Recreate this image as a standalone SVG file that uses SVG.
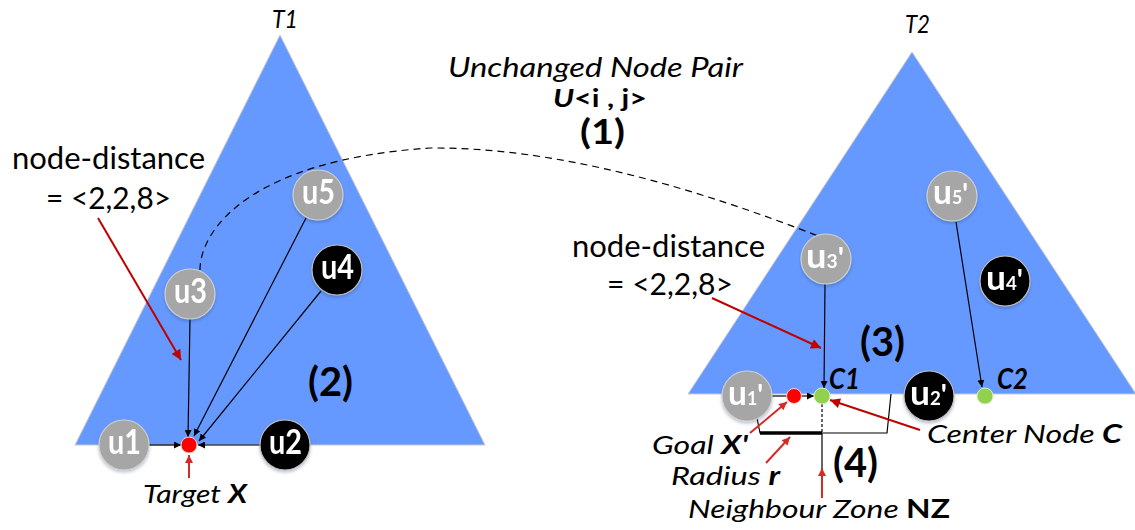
<svg xmlns="http://www.w3.org/2000/svg" width="1135" height="530" viewBox="0 0 1135 530">
<style>
.tri{fill:#6699ff;stroke:#c9c9c9;stroke-width:1}
.gn{fill:#a6a6a6;stroke:#d0d0d0;stroke-width:1.2}
.bn{fill:#000;stroke:#bfbfbf;stroke-width:1.2}
.nl{font-family:Lato,"Open Sans","Liberation Sans",sans-serif;font-weight:bold;fill:#fff}
.t{font-family:Lato,"Open Sans","Liberation Sans",sans-serif;fill:#000}
.it{font-style:italic}
.b{font-weight:bold}
.conn{stroke:#000;stroke-width:1.2;fill:none}
.red{stroke:#c00000;stroke-width:2;fill:none}
.red2{stroke:#d42a2a;stroke-width:2;fill:none}
</style>
<defs>
<marker id="ab" viewBox="0 0 10 10" refX="10" refY="5" markerWidth="7" markerHeight="7" markerUnits="userSpaceOnUse" orient="auto"><path d="M0,0 L10,5 L0,10 z" fill="#000"/></marker>
<marker id="ar" viewBox="0 0 10 10" refX="10" refY="5" markerWidth="12" markerHeight="10" markerUnits="userSpaceOnUse" orient="auto"><path d="M0,0 L10,5 L0,10 z" fill="#c00000"/></marker>
<marker id="ar2" viewBox="0 0 10 10" refX="10" refY="5" markerWidth="10" markerHeight="8" markerUnits="userSpaceOnUse" orient="auto"><path d="M0,0 L10,5 L0,10 z" fill="#d42a2a"/></marker>
<filter id="sh" x="-30%" y="-30%" width="160%" height="170%"><feDropShadow dx="0" dy="2" stdDeviation="1.5" flood-color="#1f3864" flood-opacity="0.3"/></filter>
</defs>

<g id="tree-T1">
<polygon class="tri" points="280,35 75,445 485,445"/>
<text class="t it" x="272" y="28" font-size="26" textLength="26" lengthAdjust="spacingAndGlyphs">T1</text>
</g>
<g id="tree-T2">
<polygon class="tri" points="912,52 688,394 1136,394"/>
<text class="t it" x="905" y="33" font-size="26" textLength="25" lengthAdjust="spacingAndGlyphs">T2</text>
</g>

<g id="connectors">
<path class="conn" stroke-dasharray="7,5" d="M200,270 C200,230 250,160 430,148 C560,147 700,190 818,236"/>
<line class="conn" x1="149" y1="445" x2="181" y2="445" marker-end="url(#ab)"/>
<line class="conn" x1="260" y1="445" x2="198" y2="445" marker-end="url(#ab)"/>
<line class="conn" x1="190" y1="319" x2="188" y2="437" marker-end="url(#ab)"/>
<line class="conn" x1="306" y1="218" x2="194" y2="436" marker-end="url(#ab)"/>
<line class="conn" x1="321" y1="291" x2="199" y2="441" marker-end="url(#ab)"/>
<line class="conn" x1="772" y1="396" x2="787" y2="396"/>
<line class="conn" x1="801" y1="396" x2="814" y2="396" marker-end="url(#ab)"/>
<line class="conn" x1="825" y1="284" x2="824" y2="388" marker-end="url(#ab)"/>
<line class="conn" x1="956" y1="222" x2="982" y2="387" marker-end="url(#ab)"/>
<path class="conn" d="M757,418 L760,433 L887,433 L891,394"/>
<line x1="760" y1="433" x2="822" y2="433" stroke="#000" stroke-width="3.5"/>
<line class="conn" x1="822" y1="404" x2="822" y2="433" stroke-dasharray="3,2"/>
<line class="conn" x1="822" y1="433" x2="822" y2="468"/>
<line class="red" x1="98" y1="218" x2="181" y2="360" marker-end="url(#ar)"/>
<line class="red2" x1="189" y1="478" x2="189" y2="455" marker-end="url(#ar2)"/>
<line class="red" x1="712" y1="298" x2="821" y2="348" marker-end="url(#ar)"/>
<line class="red" x1="920" y1="430" x2="830" y2="400" marker-end="url(#ar)"/>
<line class="red2" x1="750" y1="433" x2="787" y2="402" marker-end="url(#ar2)"/>
<line class="red2" x1="766" y1="463" x2="790" y2="437" marker-end="url(#ar2)"/>
<line class="red2" x1="822" y1="498" x2="822" y2="468" marker-end="url(#ar2)"/>
</g>

<g id="u5" filter="url(#sh)"><circle class="gn" cx="318" cy="195" r="25"/><text class="nl" x="302" y="204" font-size="35" textLength="33" lengthAdjust="spacingAndGlyphs">u5</text></g>
<g id="u4" filter="url(#sh)"><circle class="bn" cx="337" cy="270" r="25"/><text class="nl" x="321" y="279" font-size="35" textLength="33" lengthAdjust="spacingAndGlyphs">u4</text></g>
<g id="u3" filter="url(#sh)"><circle class="gn" cx="190" cy="294" r="25"/><text class="nl" x="174" y="303" font-size="35" textLength="33" lengthAdjust="spacingAndGlyphs">u3</text></g>
<g id="u1" filter="url(#sh)"><circle class="gn" cx="124" cy="445" r="25"/><text class="nl" x="108" y="454" font-size="35" textLength="33" lengthAdjust="spacingAndGlyphs">u1</text></g>
<g id="u2" filter="url(#sh)"><circle class="bn" cx="285" cy="445" r="25"/><text class="nl" x="269" y="454" font-size="35" textLength="33" lengthAdjust="spacingAndGlyphs">u2</text></g>
<g id="target-X"><circle cx="189" cy="445" r="8" fill="#ff0000" stroke="#ffd0d0" stroke-width="1"/></g>

<g id="u5p" filter="url(#sh)"><circle class="gn" cx="952" cy="196" r="25"/><text class="nl" x="933" y="204" textLength="35" lengthAdjust="spacingAndGlyphs"><tspan font-size="34">u</tspan><tspan font-size="18">5</tspan><tspan font-size="28">'</tspan></text></g>
<g id="u3p" filter="url(#sh)"><circle class="gn" cx="826" cy="259" r="25"/><text class="nl" x="806" y="268" textLength="38" lengthAdjust="spacingAndGlyphs"><tspan font-size="34">u</tspan><tspan font-size="18">3</tspan><tspan font-size="28">'</tspan></text></g>
<g id="u4p" filter="url(#sh)"><circle class="bn" cx="1005" cy="281" r="25"/><text class="nl" x="986" y="290" textLength="37" lengthAdjust="spacingAndGlyphs"><tspan font-size="34">u</tspan><tspan font-size="18">4</tspan><tspan font-size="28">'</tspan></text></g>
<g id="u1p" filter="url(#sh)"><circle class="gn" cx="747" cy="396" r="25"/><text class="nl" x="728" y="405" textLength="35" lengthAdjust="spacingAndGlyphs"><tspan font-size="34">u</tspan><tspan font-size="18">1</tspan><tspan font-size="28">'</tspan></text></g>
<g id="u2p" filter="url(#sh)"><circle class="bn" cx="929" cy="396" r="25"/><text class="nl" x="910" y="405" textLength="37" lengthAdjust="spacingAndGlyphs"><tspan font-size="34">u</tspan><tspan font-size="18">2</tspan><tspan font-size="28">'</tspan></text></g>
<g id="goal-Xp"><circle cx="794" cy="396" r="7.5" fill="#ff0000" stroke="#ffd0d0" stroke-width="1"/></g>
<g id="C1"><circle cx="822" cy="396" r="8" fill="#92d050" stroke="#d8efc0" stroke-width="1"/><text class="t it b" x="829" y="389" font-size="28" textLength="31" lengthAdjust="spacingAndGlyphs">C1</text></g>
<g id="C2"><circle cx="985" cy="396" r="8" fill="#92d050" stroke="#d8efc0" stroke-width="1"/><text class="t it b" x="997" y="389" font-size="28" textLength="31" lengthAdjust="spacingAndGlyphs">C2</text></g>

<g id="labels">
<text class="t" x="12" y="169" font-size="31" textLength="193" lengthAdjust="spacingAndGlyphs">node-distance</text>
<text class="t" x="46" y="209" font-size="31" textLength="125" lengthAdjust="spacingAndGlyphs">= &lt;2,2,8&gt;</text>
<text class="t" x="572" y="257" font-size="31" textLength="193" lengthAdjust="spacingAndGlyphs">node-distance</text>
<text class="t" x="607" y="295" font-size="31" textLength="126" lengthAdjust="spacingAndGlyphs">= &lt;2,2,8&gt;</text>
<text class="t it" x="448" y="77" font-size="27" textLength="295" lengthAdjust="spacingAndGlyphs">Unchanged Node Pair</text>
<text class="t b" x="553" y="107" font-size="24" textLength="94" lengthAdjust="spacingAndGlyphs"><tspan font-style="italic">U</tspan>&lt;i , j&gt;</text>
<text class="t b" x="580" y="144" font-size="35" textLength="45" lengthAdjust="spacingAndGlyphs">(1)</text>
<text class="t b" x="308" y="396" font-size="40" textLength="45" lengthAdjust="spacingAndGlyphs">(2)</text>
<text class="t b" x="860" y="356" font-size="40" textLength="45" lengthAdjust="spacingAndGlyphs">(3)</text>
<text class="t b" x="833" y="477" font-size="40" textLength="45" lengthAdjust="spacingAndGlyphs">(4)</text>
<text class="t it" x="143" y="503" font-size="26" textLength="104" lengthAdjust="spacingAndGlyphs">Target <tspan font-weight="bold">X</tspan></text>
<text class="t it" x="927" y="443" font-size="26" textLength="195" lengthAdjust="spacingAndGlyphs">Center Node <tspan font-weight="bold">C</tspan></text>
<text class="t it" x="652" y="454" font-size="26" textLength="96" lengthAdjust="spacingAndGlyphs">Goal <tspan font-weight="bold">X'</tspan></text>
<text class="t it" x="671" y="485" font-size="26" textLength="109" lengthAdjust="spacingAndGlyphs">Radius <tspan font-weight="bold">r</tspan></text>
<text class="t it" x="688" y="518" font-size="26" textLength="262" lengthAdjust="spacingAndGlyphs">Neighbour Zone <tspan font-weight="bold" font-style="normal">NZ</tspan></text>
</g>
</svg>
